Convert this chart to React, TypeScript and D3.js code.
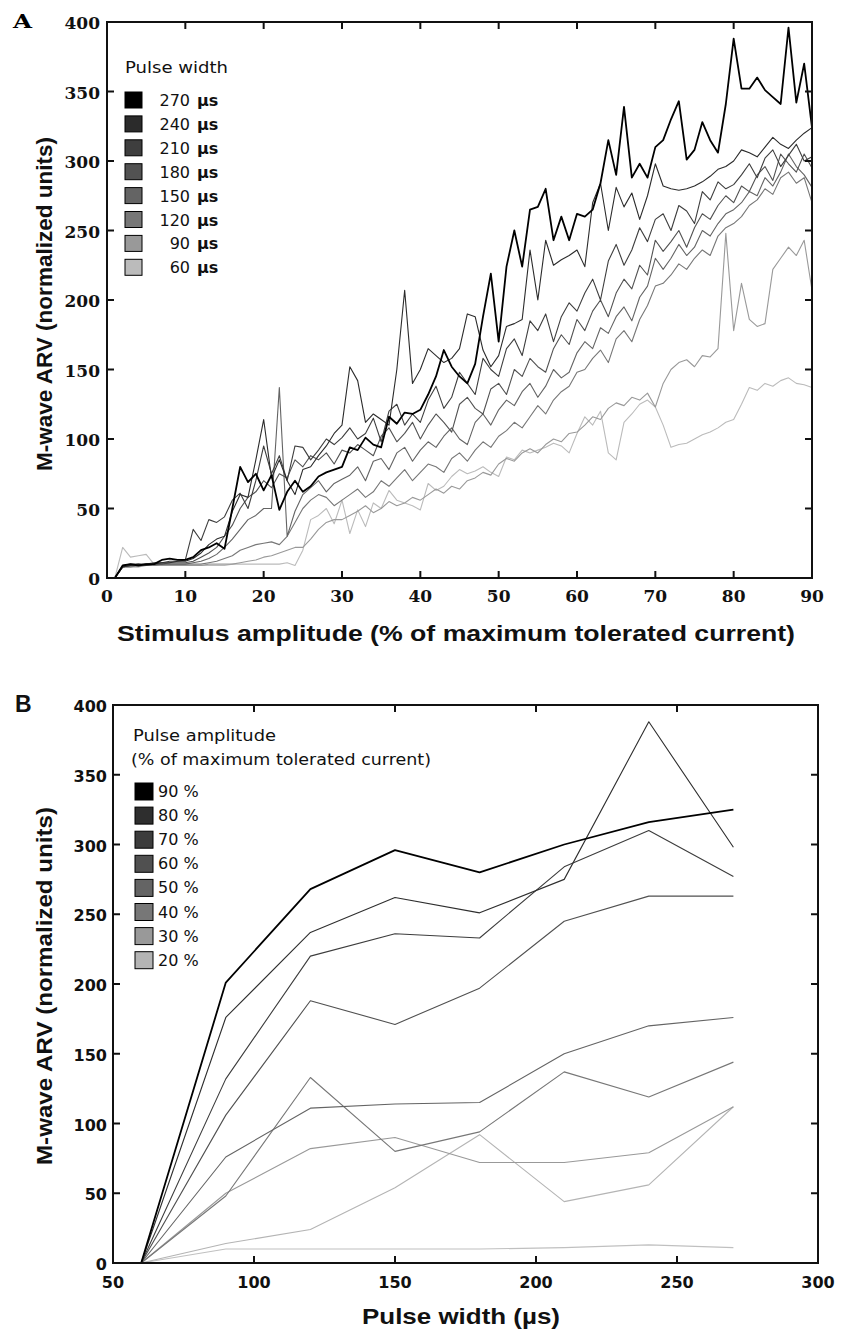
import React from 'react';
import * as d3 from 'd3';

// ---------- Panel A data ----------
const stimulus: number[] = d3.range(1, 91); // stimulus amplitude, % of max tolerated current
const pw270 = [0,9,10,9,10,10,13,14,13,13, 15,20,22,25,21,50,80,69,75,63, 74,49,62,70,62,66,73,76,78,80, 94,92,101,96,94,116,111,119,118,121, 132,145,164,152,145,140,154,188,219,170, 224,250,224,265,267,280,243,260,243,262, 260,265,284,315,290,339,288,298,288,310, 315,330,343,301,308,328,315,306,341,388, 352,352,360,351,346,341,396,342,370,324];
const pw240 = [0,8,9,10,9,10,11,11,12,12, 14,18,24,28,30,48,60,58,85,114, 72,85,70,60,78,80,88,95,104,110, 152,142,112,118,114,110,150,207,140,150, 165,160,155,158,165,190,188,164,152,160, 181,183,186,236,200,243,225,229,232,236, 224,270,284,250,281,267,277,258,275,298, 282,280,279,280,282,285,289,294,296,300, 308,306,303,310,317,312,309,315,320,324];
const pw210 = [0,9,10,10,10,11,11,12,12,13, 35,27,42,40,44,56,61,50,70,95, 75,88,70,95,94,85,92,100,96,101, 108,100,104,115,98,120,125,110,118,112, 128,138,122,130,148,140,132,158,150,145, 165,172,160,185,178,190,170,188,198,192, 205,215,200,228,240,225,236,252,242,258, 262,250,268,264,255,278,272,285,280,283, 290,298,288,302,308,296,304,312,300,303];
const pw180 = [0,8,9,9,10,10,10,11,11,11, 12,15,18,22,30,38,50,58,62,70, 65,75,72,85,80,88,85,90,82,92, 90,96,92,88,102,108,98,104,112,100, 110,118,112,105,125,130,122,118,136,140, 132,150,145,158,152,148,165,175,168,186, 178,192,200,188,205,215,208,225,218,243, 235,242,250,238,252,262,258,268,275,270, 282,278,290,296,286,305,298,292,305,295];
const pw150 = [0,8,9,9,9,10,10,10,10,10, 11,12,14,17,22,28,35,42,45,50, 50,137,30,48,60,65,70,62,68,71, 74,80,70,84,86,78,90,94,84,92, 98,94,102,108,100,96,112,118,110,121, 128,124,134,140,130,138,150,144,148,162, 170,165,180,176,188,195,185,202,210,230, 222,230,240,232,238,250,246,255,262,265, 270,278,275,288,282,292,305,296,290,281];
const pw120 = [0,8,8,9,9,9,10,10,10,10, 10,10,11,12,14,16,20,22,24,25, 26,24,30,40,50,56,60,58,52,56, 60,64,58,62,70,66,72,78,70,76, 82,80,76,86,90,84,92,98,94,102, 106,112,108,116,124,118,128,134,138,148, 150,158,164,155,172,178,170,186,196,210, 212,218,226,222,230,236,232,246,252,255, 260,268,272,280,276,288,292,284,288,270];
const pw90 = [0,8,8,8,9,9,9,9,9,9, 9,9,10,10,10,10,11,12,13,15, 16,18,20,22,22,28,35,40,42,42, 45,48,52,47,50,55,52,54,58,56, 60,64,61,66,64,70,72,76,74,82, 86,84,90,93,90,96,100,98,104,105, 110,116,114,122,126,124,130,128,133,123, 140,150,155,157,152,160,159,165,248,178, 212,186,181,183,222,230,238,232,243,207];
const pw60 = [0,22,15,16,17,10,9,9,9,9, 9,9,9,9,9,10,10,10,10,10, 10,10,11,9,20,42,45,50,39,56, 32,49,37,54,50,63,56,54,52,49, 68,63,66,73,78,75,77,80,76,73, 87,85,92,90,92,94,97,95,90,104, 116,110,120,90,85,112,118,125,128,123, 110,94,96,97,100,103,105,108,112,114, 125,137,135,140,138,142,144,140,139,137];

const widthLabels = ['270', '240', '210', '180', '150', '120', '90', '60'];
const widthSeries = [pw270, pw240, pw210, pw180, pw150, pw120, pw90, pw60];
const widthColors = ['#000000', '#2b2b2b', '#3e3e3e', '#525252', '#646464', '#777777', '#999999', '#bbbbbb'];

const xTicksA = [0, 10, 20, 30, 40, 50, 60, 70, 80, 90];
const yTicks = [0, 50, 100, 150, 200, 250, 300, 350, 400];

// ---------- Panel B data ----------
const pulseWidths = [60, 90, 120, 150, 180, 210, 240, 270];
const amp90 = [0, 201, 268, 296, 280, 300, 316, 325];
const amp80 = [0, 176, 237, 262, 251, 275, 388, 298];
const amp70 = [0, 132, 220, 236, 233, 284, 310, 277];
const amp60 = [0, 106, 188, 171, 197, 245, 263, 263];
const amp50 = [0, 76, 111, 114, 115, 150, 170, 176];
const amp40 = [0, 48, 133, 80, 94, 137, 119, 144];
const amp30 = [0, 50, 82, 90, 72, 72, 79, 112];
const amp20 = [0, 14, 24, 54, 92, 44, 56, 112];
const amp10 = [0, 10, 10, 10, 10, 11, 13, 11];

const ampLabels = ['90', '80', '70', '60', '50', '40', '30', '20'];
const ampSeries = [amp90, amp80, amp70, amp60, amp50, amp40, amp30, amp20, amp10];
const ampColors = ['#000000', '#2e2e2e', '#3c3c3c', '#505050', '#646464', '#777777', '#999999', '#b4b4b4', '#c0c0c0'];
const xTicksB = [50, 100, 150, 200, 250, 300];

// ---------- Layout ----------
const xA = d3.scaleLinear().domain([0, 90]).range([107, 812]);
const yA = d3.scaleLinear().domain([0, 400]).range([578, 22]);
const xB = d3.scaleLinear().domain([50, 300]).range([113, 818]);
const yB = d3.scaleLinear().domain([0, 400]).range([1263, 705]);

const TICK = 7;
const sans = 'Liberation Sans, Arial, sans-serif';
const legendFont = 'DejaVu Sans, Verdana, sans-serif';

function Frame({ x, y, ticksX, ticksY, tickFont, xLabelY, yLabelX, tickSize }: any) {
  const [x0, x1] = x.range();
  const [y0, y1] = y.range(); // y0 bottom, y1 top
  return (
    <g>
      <rect x={x0} y={y1} width={x1 - x0} height={y0 - y1} fill="none" stroke="#111" strokeWidth={2} />
      {ticksX.map((t: number) => (
        <g key={'tx' + t}>
          <line x1={x(t)} x2={x(t)} y1={y0} y2={y0 - TICK} stroke="#111" strokeWidth={2} />
          <line x1={x(t)} x2={x(t)} y1={y1} y2={y1 + TICK} stroke="#111" strokeWidth={2} />
          <text x={x(t)} y={xLabelY} textAnchor="middle" fontFamily={tickFont} fontWeight="bold" fontSize={tickSize} fill="#111">{t}</text>
        </g>
      ))}
      {ticksY.map((t: number) => (
        <g key={'ty' + t}>
          <line x1={x0} x2={x0 + TICK} y1={y(t)} y2={y(t)} stroke="#111" strokeWidth={2} />
          <line x1={x1} x2={x1 - TICK} y1={y(t)} y2={y(t)} stroke="#111" strokeWidth={2} />
          <text x={yLabelX} y={y(t) + 7} textAnchor="end" fontFamily={tickFont} fontWeight="bold" fontSize={tickSize} fill="#111">{t}</text>
        </g>
      ))}
    </g>
  );
}

export default function App() {
  const lineA = (vals: number[]) =>
    d3.line<number>().x((_, i) => xA(stimulus[i])).y((v) => yA(v))(vals) || '';
  const lineB = (vals: number[]) =>
    d3.line<number>().x((_, i) => xB(pulseWidths[i])).y((v) => yB(v))(vals) || '';

  const orderA = d3.range(widthSeries.length).reverse();
  const orderB = d3.range(ampSeries.length).reverse();

  return (
    <svg width={842} height={1334} style={{ position: 'absolute', left: 0, top: 0, background: '#fff' }}>
      <rect x={0} y={0} width={842} height={1334} fill="#fff" />

      {/* ---------------- Panel A ---------------- */}
      <text x={13} y={28} fontFamily="DejaVu Serif, serif" fontWeight="bold" fontSize={18} textLength={19} lengthAdjust="spacingAndGlyphs">A</text>
      <g>
        {orderA.map((i) => (
          <path key={'a' + i} d={lineA(widthSeries[i])} fill="none" stroke={widthColors[i]} strokeWidth={i === 0 ? 1.8 : 1.1} strokeLinejoin="round" />
        ))}
      </g>
      <Frame x={xA} y={yA} ticksX={xTicksA} ticksY={yTicks} tickFont="DejaVu Serif, serif" xLabelY={602} yLabelX={100} tickSize={17} />

      {/* Legend A */}
      <text x={125} y={73} fontFamily={legendFont} fontSize={16} textLength={103} lengthAdjust="spacingAndGlyphs" fill="#111">Pulse width</text>
      {widthLabels.map((lab, i) => {
        const top = 92 + i * 23.9;
        return (
          <g key={'la' + lab}>
            <rect x={125} y={top} width={17} height={16} fill={widthColors[i]} stroke="#000" strokeWidth={1} />
            <text x={190} y={top + 14} textAnchor="end" fontFamily={legendFont} fontSize={16} fill="#111">{lab}</text>
            <text x={197} y={top + 14} fontFamily={legendFont} fontSize={16} fontWeight="bold" fill="#111">µs</text>
          </g>
        );
      })}

      <text x={456} y={641} textAnchor="middle" fontFamily={sans} fontWeight="bold" fontSize={22} textLength={678} lengthAdjust="spacingAndGlyphs" fill="#111">Stimulus amplitude (% of maximum tolerated current)</text>
      <text transform="translate(52,304) rotate(-90)" textAnchor="middle" fontFamily={sans} fontWeight="bold" fontSize={22} textLength={334} lengthAdjust="spacingAndGlyphs" fill="#111">M-wave ARV (normalized units)</text>

      {/* ---------------- Panel B ---------------- */}
      <text x={15} y={712} fontFamily={sans} fontWeight="bold" fontSize={23} fill="#111">B</text>
      <g>
        {orderB.map((i) => (
          <path key={'b' + i} d={lineB(ampSeries[i])} fill="none" stroke={ampColors[i]} strokeWidth={i === 0 ? 1.8 : 1.1} strokeLinejoin="round" />
        ))}
      </g>
      <Frame x={xB} y={yB} ticksX={xTicksB} ticksY={yTicks} tickFont={'DejaVu Sans, sans-serif'} xLabelY={1288} yLabelX={107} tickSize={16} />

      {/* Legend B */}
      <text x={133} y={741} fontFamily={legendFont} fontSize={16} textLength={143} lengthAdjust="spacingAndGlyphs" fill="#111">Pulse amplitude</text>
      <text x={131} y={765} fontFamily={legendFont} fontSize={16} textLength={300} lengthAdjust="spacingAndGlyphs" fill="#111">(% of maximum tolerated current)</text>
      {ampLabels.map((lab, i) => {
        const top = 783 + i * 24.1;
        return (
          <g key={'lb' + lab}>
            <rect x={135} y={top} width={18} height={17} fill={ampColors[i]} stroke="#000" strokeWidth={1} />
            <text x={158} y={top + 14} fontFamily={legendFont} fontSize={16} fill="#111">{lab} %</text>
          </g>
        );
      })}

      <text x={461} y={1324} textAnchor="middle" fontFamily={sans} fontWeight="bold" fontSize={22} textLength={198} lengthAdjust="spacingAndGlyphs" fill="#111">Pulse width (µs)</text>
      <text transform="translate(52,986) rotate(-90)" textAnchor="middle" fontFamily={sans} fontWeight="bold" fontSize={22} textLength={358} lengthAdjust="spacingAndGlyphs" fill="#111">M-wave ARV (normalized units)</text>
    </svg>
  );
}
